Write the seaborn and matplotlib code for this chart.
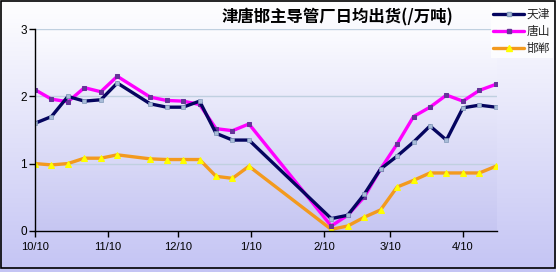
import numpy as np
import pandas as pd
import matplotlib
matplotlib.use("Agg")
import matplotlib.pyplot as plt
import matplotlib.dates as mdates
from matplotlib.lines import Line2D
from matplotlib.patches import Rectangle
import seaborn as sns

# ---- data ----
dates = ["2012-10-10", "2012-10-17", "2012-10-24", "2012-10-31", "2012-11-07", "2012-11-14",
         "2012-11-28", "2012-12-05", "2012-12-12", "2012-12-19", "2012-12-26", "2013-01-02",
         "2013-01-09", "2013-02-13", "2013-02-20", "2013-02-27", "2013-03-06", "2013-03-13",
         "2013-03-20", "2013-03-27", "2013-04-03", "2013-04-10", "2013-04-17", "2013-04-24"]
tianjin = [1.60, 1.70, 2.00, 1.93, 1.95, 2.20, 1.89, 1.84, 1.84, 1.93, 1.45, 1.35,
           1.35, 0.18, 0.23, 0.54, 0.92, 1.11, 1.32, 1.56, 1.35, 1.83, 1.87, 1.84]
tangshan = [2.10, 1.96, 1.92, 2.13, 2.07, 2.30, 1.99, 1.94, 1.93, 1.88, 1.52, 1.49,
            1.59, 0.07, 0.23, 0.50, 0.92, 1.29, 1.70, 1.84, 2.02, 1.93, 2.09, 2.18]
handan = [1.00, 0.98, 1.00, 1.08, 1.08, 1.13, 1.07, 1.06, 1.06, 1.06, 0.81, 0.78,
          0.96, 0.02, 0.07, 0.20, 0.31, 0.65, 0.75, 0.86, 0.86, 0.86, 0.86, 0.96]
series_names = ["天津", "唐山", "邯郸"]
tick_dates = ["2012-10-10", "2012-11-10", "2012-12-10", "2013-01-10", "2013-02-10",
              "2013-03-10", "2013-04-10"]
tick_labels = ["10/10", "11/10", "12/10", "1/10", "2/10", "3/10", "4/10"]
y_ticks = [0, 1, 2, 3]
title = "津唐邯主导管厂日均出货(/万吨)"

sns.set_style("white")
plt.rcParams['font.family'] = ['Liberation Sans', 'DejaVu Sans']
cjk = ['Noto Sans CJK SC', 'DejaVu Sans']

W, H = 556, 272
fig = plt.figure(figsize=(W / 100, H / 100), dpi=100)

# figure background gradient
bg = fig.add_axes([0, 0, 1, 1], zorder=-10)
bg.set_axis_off()
grad = np.linspace(0, 1, 256).reshape(-1, 1)
top_c = np.array([1.0, 1.0, 1.0])
bot_c = np.array([0xC4, 0xC4, 0xF4]) / 255
img = top_c[None, None, :] * (1 - grad[:, :, None]) + bot_c[None, None, :] * grad[:, :, None]
bg.imshow(img, aspect='auto', extent=[0, 1, 0, 1], origin='upper')
bg.set_xlim(0, 1)
bg.set_ylim(0, 1)
bg.add_patch(Rectangle((0.5 / W, 4.5 / H), (W - 2) / W, (H - 5.5) / H,
                       fill=False, edgecolor='black', linewidth=1.2))

ax = fig.add_axes([35 / W, 1 - 230.7 / H, (497 - 35) / W, (230.7 - 29.3) / H])
ax.patch.set_alpha(0)

# plot-area gradient
top_p = np.array([0xFC, 0xFC, 0xFF]) / 255
bot_p = np.array([0xC6, 0xC6, 0xF2]) / 255
img2 = top_p[None, None, :] * (1 - grad[:, :, None]) + bot_p[None, None, :] * grad[:, :, None]
ax.imshow(img2, aspect='auto', extent=[0, 1, 0, 1], origin='upper',
          transform=ax.transAxes, zorder=0)

df = pd.DataFrame({"date": pd.to_datetime(dates), "tj": tianjin, "ts": tangshan, "hd": handan})

sns.lineplot(data=df, x="date", y="hd", ax=ax, color="#F39A1E", linewidth=2.4,
             marker="^", markersize=5, markerfacecolor="#FFFF00", markeredgecolor="#FFFF00",
             zorder=3)
sns.lineplot(data=df, x="date", y="ts", ax=ax, color="#FF00FF", linewidth=2.4,
             marker="s", markersize=3.5, markerfacecolor="#663399", markeredgecolor="#663399",
             zorder=4)
sns.lineplot(data=df, x="date", y="tj", ax=ax, color="#05055F", linewidth=2.4,
             marker="s", markersize=3, markerfacecolor="#A8BCD8", markeredgecolor="#8098B8",
             markeredgewidth=0.5, zorder=5)

ax.set_xlim(pd.Timestamp(dates[0]), pd.Timestamp(dates[-1]) + pd.Timedelta(hours=12))
ax.set_ylim(0, 3)
ax.set_xticks(pd.to_datetime(tick_dates))
ax.set_xticklabels(tick_labels, fontsize=8)
ax.set_yticks(y_ticks)
ax.set_yticklabels([str(v) for v in y_ticks], fontsize=8.5)
ax.set_xlabel("")
ax.set_ylabel("")
ax.tick_params(axis='both', direction='out', length=4, width=1, color='black', pad=2,
               labelcolor='black', left=True, bottom=True)
ax.tick_params(axis='x', pad=4)
for y in y_ticks[1:]:
    ax.axhline(y, color="#C0D0E0", linewidth=1, zorder=1)
for s in ["top", "right"]:
    ax.spines[s].set_visible(False)
for s in ["left", "bottom"]:
    ax.spines[s].set_color("black")
    ax.spines[s].set_linewidth(1)
    ax.spines[s].set_zorder(6)

fig.text(337 / W, 1 - 17 / H, title, ha='center', va='center', fontsize=11.8,
         fontweight='bold', family=cjk, color='black')

handles = [
    Line2D([], [], color="#05055F", linewidth=2.4, marker="s", markersize=3,
           markerfacecolor="#A8BCD8", markeredgecolor="#8098B8"),
    Line2D([], [], color="#FF00FF", linewidth=2.4, marker="s", markersize=3.5,
           markerfacecolor="#663399", markeredgecolor="#663399"),
    Line2D([], [], color="#F39A1E", linewidth=2.4, marker="^", markersize=5,
           markerfacecolor="#FFFF00", markeredgecolor="#FFFF00"),
]
leg = fig.legend(handles, series_names, loc='upper right', bbox_to_anchor=(553 / W, 1 - 5 / H),
                 prop={'family': cjk, 'size': 8.5}, frameon=True, fancybox=False,
                 handlelength=2.6, handletextpad=0.2, labelspacing=0.35, borderpad=0.25,
                 borderaxespad=0)
leg.get_frame().set_facecolor('white')
leg.get_frame().set_edgecolor('none')

fig.savefig("out.png", dpi=100)
